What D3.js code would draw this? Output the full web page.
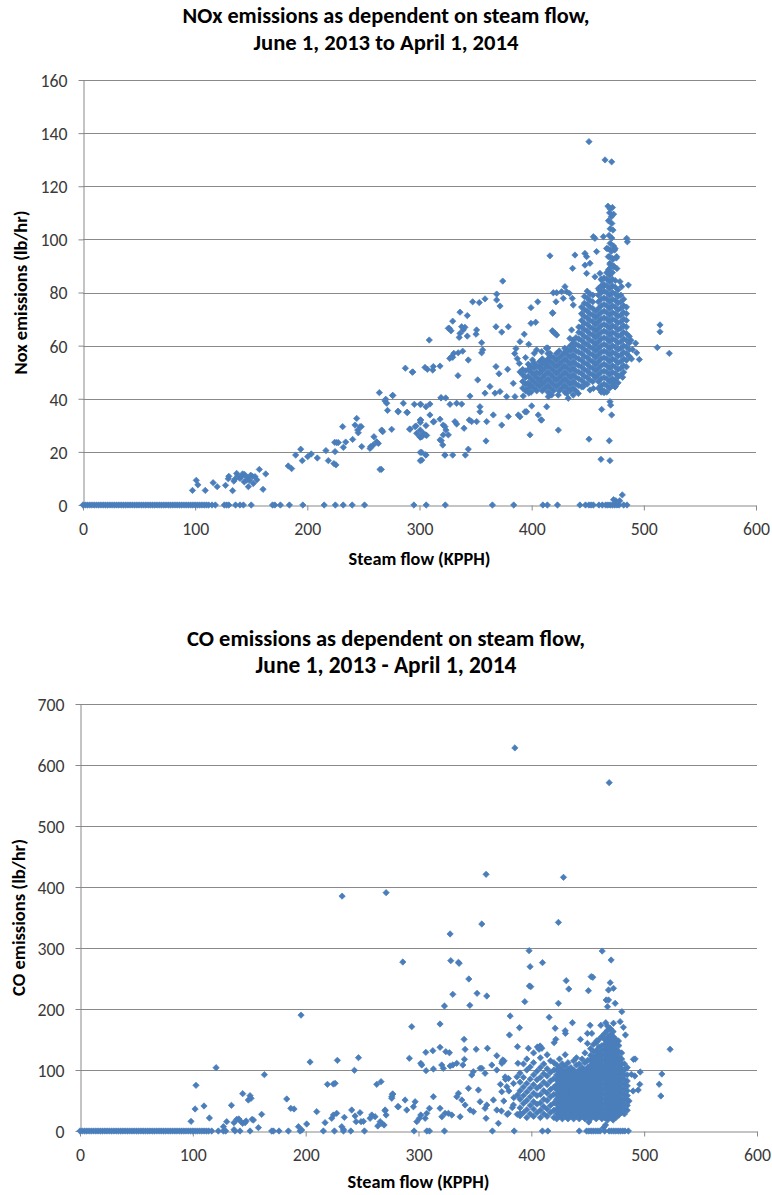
<!DOCTYPE html>
<html><head><meta charset="utf-8">
<script src="https://cdn.jsdelivr.net/npm/d3@7"></script>
<style>body{margin:0;background:#fff}svg{display:block}</style>
</head><body>
<svg id="c" width="772" height="1195"></svg>
<script>
// ---------------- DATA ----------------
const xTicks = [0,100,200,300,400,500,600];
const noxTicks = [0,20,40,60,80,100,120,140,160];
const coTicks = [0,100,200,300,400,500,600,700];

const noxTitle = ["NOx emissions as dependent on steam flow,", "June 1, 2013 to April 1, 2014"];
const coTitle = ["CO emissions as dependent on steam flow,", "June 1, 2013 - April 1, 2014"];
const xTitle = "Steam flow (KPPH)";
const noxYTitle = "Nox emissions (lb/hr)";
const coYTitle = "CO emissions (lb/hr)";

// steam flow values where NOx reading was 0
const noxZeroFlow = [0,2,4,6,8,10,12,14,16,18,20,22,24,26,28,30,32,34,36,38,40,42,44,46,48,50,52,54,56,58,60,62,64,66,68,70,72,74,76,78,80,82,84,86,88,90,92,94,96,98,100,102,104,106,108,110,112,115,118,126,128,130,136,140,143,150,169,171,176,184,196,215,225,232,240,251,295,306,323,365,384,410,414,423,443,448,451,453,455,460,463,466,468,470,472,474,476,478,482,485];

// individual NOx points [steam flow, NOx]
const noxPoints = [
[97.6,5.5],[101,9.3],[102.4,7.6],[109,5.5],[116,8.4],[119.6,6.9],[127.1,7.4],[129.5,9.9],[130,10.8],[133.4,5.4],[134.5,9],[135.4,9.7],[137,11.9],[138,11],[139.9,10],[141,10.5],[142.3,11.7],[143.8,8.7],[144,11.5],[145.9,9.4],[146.5,10.3],[147.4,6.9],[148.5,9.3],[149.5,11.2],[151,10.8],[151.8,8.1],[153.3,10.7],[155,9.5],[157.2,13.4],[160.5,5.9],[162.9,11.7],
[183,14.7],[186,13.7],[189.6,18.8],[194.1,21],[195.5,16.7],[200.3,18.2],[203.5,19.2],[208.9,17.7],[216.6,20.5],[218.7,16.7],[223.7,15.6],[225.5,15.1],[224.4,23.6],[224.7,20.1],[226.2,23.5],[227.6,23.5],
[231.5,29.5],[234.2,23.7],[232.1,21.7],[240.4,24.7],[242.5,30.1],[244,32.6],[244.9,28.2],[247,29.5],[248.1,29.5],[245.4,27.2],[248.5,22],
[255.9,21.3],[256.5,22],[258.8,22.6],[259.4,25.7],[261.8,23.8],[263.3,23.2],[267.2,27.6],[266,13.4],[266.6,27.9],
[264.2,42.3],[269.9,39.8],[270.8,38.3],[271.5,35.6],[276.1,41.2],[285.6,38.3],[280.8,35.3],[288.8,34.9],[295.4,37.9],[300.7,37.9],[305.8,37],[309.3,38],
[287.4,51.5],[294,50.1],[304.9,51.8],[307,51.1],[312.3,52.1],[311.8,50.8],[318.3,52.3],[308.7,62.1],[325.7,66.5],[327,55.2],
[300.7,32],[300.7,31.1],[300.7,28.2],[300.7,25.5],[300.7,19.8],[300.7,16.7],
[305.8,29.9],[306.4,26.2],[305.5,18.9],[309.3,33.9],[312.3,31.3],[318.3,32.3],[319.2,40.3],[323.4,40.3],[322.7,29.5],[323.6,28.2],[321.2,26.4],[318.3,24.5],[319.4,24.2],[320.7,22.6],[322.7,18.8],
[291.3,28.6],[296,29.5],[297.5,27],[300.4,25.7],[303.4,27],
[416.3,93.8],[374.2,84.3],[368.8,79.4],[368.8,77.2],[371.8,74.9],[358.4,77.6],[353.3,76.2],[347.4,76.5],[336.1,72.6],[342.6,71.3],[329.6,69.2],[326.6,66.5],[328.1,65.6],[337.6,67.1],[340.5,66.9],[336.1,64.6],[335.4,63.1],[339,65.9],[342.6,63.6],[350.9,65.9],[350.4,64.3],[355.4,61.1],[368.2,67.1],[373.3,65.1],[379.2,67.1],[399.4,74.3],[405.4,76.5],[403.6,68.8],[399.4,68.4],[418.7,72.2],[421.7,76.5],[418.4,65.6],[422.3,64],[414.3,59.1],[393.4,64.3],[389.6,61.5],[397.4,60.5],
[293.6,50],[328.6,55.8],[330.6,57.1],[334.5,57.3],[338.5,57.9],[329.6,55.6],[343.5,54.6],[334.3,48.7],[355.4,57.3],[356.3,58.4],[351.9,47.1],[368.2,52.1],[370.9,49.4],[378.6,51.1],[386,58.9],[387.2,55.1],[384.9,57],[389,53.3],[389.6,50.1],[394.6,55.5],[402.3,57.1],[404.4,58.4],[400.8,54.6],[399.1,52.1],[407.4,51.5],[413.4,59.1],[416.3,57.1],[412.8,53.3],
[269.2,39.2],[276.1,41.3],[281.1,35.1],[289.2,34.8],[301.1,37.9],[319.2,40.4],[327.2,37.9],[333.1,38.3],[337.6,38],[345,41],[358.4,42.1],[362.8,44.6],[367.3,42.1],[371.8,42.7],[377.7,40.8],[383.6,45.8],[385.1,40.8],[392.5,41],[397.6,42.1],
[266.3,28.2],[275.2,28.5],[291.5,28.5],[296.9,29.7],[301.1,32],[302,25.7],[305.5,26.4],[312.9,31.4],[321.2,30.1],[325.7,26.4],[331.6,31.4],[333.1,30.5],[339.7,28.9],[344.4,32],[346.5,31.4],[351,31.4],[353.9,37],[353.9,35.1],[359.9,31.4],[365.8,33.9],[373.3,30.1],[379.2,33.3],[388.1,33.9],[394.1,35.1],[398.5,26.4],[405.9,33.9],[408.3,32],[423.8,28.2],
[264.8,13.4],[302,19.8],[302,16.9],[305.8,18.8],[322.7,18.8],[329.6,18.8],[340.9,18.8],[343.5,21],[359.3,24.1],
[395.5,35.1],[389.6,33.2],[400,37.3],[408.9,32],[432.6,40.2],[416.3,41.4],[413.4,37],
[451.1,136.8],[465.4,129.9],[471.3,129.2],[455,101],[456.4,100.4],[463.9,101],[457.9,95.4],[484.7,100.4],[485.3,99.1],[438.6,94.1],[436.5,89.1],[447.5,94.7],[449,93.5],[452,91],[447.5,90.3],[449,87.2],[466.8,96.6],[470.4,96],[474.3,96.6],[468.3,93.5],[472.2,92.8],[475.8,93.5],[469.8,91],[473.4,89.7],[456.4,85.9],[460.9,87.2],[462.4,84.7],[463.9,82.2],[460.3,80.9],[478.7,84.1],[480.2,82.2],[486.2,82.8],[429.7,82.2],[431.2,80.3],[419.3,79.9],[422.3,79.9],[426.7,80.3],[428.2,77.8],[433.6,79.7],[437.1,75.3],[436.2,77.8],[418.7,72.4],[419.3,65.2],[420.8,64.6],[435.6,65.9],[434.1,62.7],[437.1,62.1],[413.3,59],[408.9,57.7],[512,59.3],[514.4,67.8],[514.4,65.2],[522.7,57.1],[492.7,60.9],[493.6,57.3],[496,54.8],[488.5,62],[490,58.5],[489,55],
[462.4,36],[470.4,37.6],[471.3,33.9],[469.8,38.9],[451.1,24.8],[469.2,24.2],[461.8,17.2],[469.8,16.7],[480.8,3.8],[475,1.6],[478.5,1.6],[473,2],[477.2,48.3],[481.1,48.1],[474.3,44.5],[472.8,45.8],
[407.4,46.8],[414.8,40.8],[417.8,41.4],[423.7,41.4],[431.2,42],[437.1,41.4],[441.6,42],[446,44.5],[452,43.3],[455,43.9],[462.4,43.3],[464.5,42.3],
[468,112.5],[470,111.5],[472,112],[469.5,110],[471,108.5],[473,109.5],[468.5,107],[471.5,106],[470,104],[472.5,103.5],[469,101.5],[471.5,100.5],[470,98.5],[473,97.5],[468,96.5],[471,95.5],[474,96],[469.5,93.5],[472.5,92.5],[475.5,93],[470,90.5],[473,90],[468.5,88.5],[476,89]
];

// dense NOx cluster, read column by column: [steam flow, [NOx values]]
const noxDenseColumns = [
[392,[44,46.5,49,51]],
[394.5,[43,45.5,48,50.5]],
[397,[44,46,48.5,51,53]],
[399.5,[42.5,45,47.5,50,52]],
[402,[44,46.5,49,51.5,53.5]],
[404.5,[43,45.5,48,50,52.5]],
[407,[44.5,47,49.5,52,54]],
[409.5,[43,45.5,48,50.5,53,55]],
[412,[44,46.5,49,51.5,54]],
[414.5,[42.5,45,47.5,50,52.5,55,57]],
[417,[44,46.5,49,51.5,54,56]],
[419.5,[43,45.5,48,50.5,53,55.5]],
[422,[44.5,47,49.5,52,54.5,57]],
[424.5,[43,45.5,48,50.5,53,55.5,58]],
[427,[44,46.5,49,51.5,54,56.5]],
[429.5,[42.5,45,47.5,50,52.5,55,57.5,59]],
[432,[44,46.5,49,51.5,54,56.5,58.5]],
[434.5,[43,45.5,48,50.5,53,55.5,58,60]],
[437,[44,46.5,49,51.5,54,56.5,59,61]],
[439.5,[43,45.5,48,50.5,53,55.5,58,60.5,63]],
[442,[45,47.5,50,52.5,55,57.5,60,62.5,65,67]],
[444.5,[44.5,47,49.5,52,54.5,57,59.5,62,64.5,67,69.5,72,74.5]],
[447,[46,48.5,51,53.5,56,58.5,61,63.5,66,68.5,71,73.5,76,78.5]],
[449.5,[45.5,48,50.5,53,55.5,58,60.5,63,65.5,68,70.5,73,75.5,78,80.5]],
[452,[47,49.5,52,54.5,57,59.5,62,64.5,67,69.5,72,74.5,77,79.5]],
[454.5,[46.5,49,51.5,54,56.5,59,61.5,64,66.5,69,71.5,74,76.5,79]],
[457,[48,50.5,53,55.5,58,60.5,63,65.5,68,70.5,73]],
[459.5,[44,46.5,49,51.5,54,56.5,59,61.5,64,66.5,69,71.5,74,76.5,79,81.5]],
[462,[42.5,45,47.5,50,52.5,55,57.5,60,62.5,65,67.5,70,72.5,75,77.5,80,82.5,85]],
[464.5,[43,45.5,48,50.5,53,55.5,58,60.5,63,65.5,68,70.5,73,75.5,78,80.5,83,85.5]],
[467,[42.5,45,47.5,50,52.5,55,57.5,60,62.5,65,67.5,70,72.5,75,77.5,80,82.5,85,87.5]],
[469.5,[44,46.5,49,51.5,54,56.5,59,61.5,64,66.5,69,71.5,74,76.5,79,81.5,84,86.5,89]],
[472,[45,47.5,50,52.5,55,57.5,60,62.5,65,67.5,70,72.5,75,77.5,80,82.5,85,87.5]],
[474.5,[44.5,47,49.5,52,54.5,57,59.5,62,64.5,67,69.5,72,74.5,77,79.5,82,84.5]],
[477,[46,48.5,51,53.5,56,58.5,61,63.5,66,68.5,71,73.5,76,78.5,81]],
[479.5,[49,51.5,54,56.5,59,61.5,64,66.5,69,71.5,74,76.5,79]],
[482,[50,52.5,55,57.5,60,62.5,65,67.5,70,72.5,75,77.5]],
[484.5,[52,54.5,57,59.5,62,64.5,67,69.5,72,74.5]],
[487,[56,58.5,61,63.5]]
];

// steam flow values where CO reading was 0
const coZeroFlow = [0,2,4,6,8,10,12,14,16,18,20,22,24,26,28,30,32,34,36,38,40,42,44,46,48,50,52,54,56,58,60,62,64,66,68,70,72,74,76,78,80,82,84,86,88,90,92,94,96,98,100,102,104,106,108,110,112,114,116.7,122.6,127.1,129.1,137.4,141.8,150.7,169.9,171.4,176.4,184.7,195,215.7,225.5,233.5,240,252.1,296.1,307.4,309.7,323,365.5,384.8,409.8,414.6,442.5,449,451,453,455,457,459,461,465,469,471,473,475,477,479,481,483,486];

// individual CO points [steam flow, CO]
const coPoints = [
[385.4,628],[469,571],[359.9,420.8],[271.3,390.7],[232.3,385],[428.5,415.9],[424,342],[356.1,339.3],[328,323],[398,295.6],[462.8,295],[470.7,280.3],[286.1,277],[328.6,279.2],[335.4,276.5],[336,274.9],[398.9,269.4],[409.9,276],[399.5,236.6],[398.3,237.7],[344.6,249.2],[330.4,224.1],[351.9,225.7],[360.5,221.3],[394.2,212],[424,209.3],[323,204.9],[345.5,206],[430.9,246.4],[433.2,232.8],[453,253],[454.5,252],[450.6,230],[469.9,243.1],[468.4,231.1],[472.8,233.9],[466.3,214.8],[468.4,214.8],[474.3,209.3],[467.5,203.8],[480.2,195.6],[195.9,190],
[381.2,188.5],[415.8,186.4],[294,171],[319.1,175.4],[389.5,169.3],[380.6,157.4],[421.1,168.4],[340.4,150.3],[436.4,177.5],[430,164.4],[430.2,160],[443.5,150.2],[449.7,143.6],[449.7,160],[452.1,173.3],[453.6,160],[458,147.9],[461.6,173.3],[466,177.5],[472.8,176.6],[477.2,147.5],[478.7,179.2],[481.6,170],[483.4,157.4],[523,134],[490.5,117.5],[492,118],[496.5,96.7],[494.7,67.2],[515.7,93.4],[513.3,76.6],[514.8,57.4],
[405.4,137.7],[406.9,133.9],[420.2,144.8],[421.7,150.3],[488.7,92.9],[491.7,90.2],[490.2,65.6],[486.6,49.2],[496.1,76.5],
[291.9,119.2],[306.5,129],[312.7,131.6],[319.1,137.2],[324.2,130],[327.4,128.3],[341.3,133.9],[351.1,133.9],[361.1,135.6],[369.4,123.4],[374.7,116.4],[375.9,114.8],[387.7,138.2],[397.4,135.6],[407.8,139.3],[409.3,135.6],
[302,111],[302.9,108.2],[306.7,98.9],[313.2,101.6],[320.6,108.2],[322,102.8],[328,106.6],[330.4,108.2],[333.9,111],[339.3,108.2],[340.7,117.5],[347.2,91.8],[348.6,97.2],[354.6,102.8],[356.1,102.8],[359,94.6],[365,108.2],[369.4,100],[373.9,111],[376.8,88.7],[379.7,86.1],[384.2,77.9],[387.2,88.7],[388.1,111],
[374.1,113.7],[377.1,84.7],[372.6,76.5],[380.1,65.6],[384.5,54.6],[375.6,49.2],[383.1,38.3],[387.5,27.3],[378.6,27.3],[373.5,32.8],
[267.4,12.6],[270.4,34.4],[276.3,56.2],[277.2,60.7],[282.2,39.8],[288.1,50.8],[289.6,34.4],[295.5,39.8],[297,48],[298.5,15.3],[300.8,20.8],[302,26.2],[305.9,20.8],[307.3,29],[309.7,37.2],[313.2,56.2],[319.1,37.2],[320.7,23.4],[323.6,29],[326.5,29],[329.5,26.2],[333.9,56.2],[335.4,61.8],[336.9,23.4],[338.4,50.8],[341.3,42.6],[344.3,70],[345.7,34.4],[348.7,31.6],[353.1,67.2],[354.6,48],[359,37.2],[359.9,20.8],[360.5,42.6],[366.4,50.8],[369.4,34.4],[370.8,12.6],[373.8,64.4],[378.3,72.6],[379.7,29],[384.1,42.6],[387.7,59],[390.1,29],
[120.6,103.8],[203.9,113.1],[228.1,115.8],[246.8,120.2],[243.2,99.5],[102.8,74.9],[163.4,92.3],[219.3,76.5],[224.6,77],[226.1,78.1],[263,76.5],[266.8,80.9],[183.2,52.5],[186.8,37.2],[189.7,36.1],[102,36.1],[109.9,41],[144.2,61.2],[150.7,57.9],[149.2,50.8],[151.6,53.6],[134.2,42.1],[161,27.3],[209.8,31.7],[276.9,60.1],[276.3,53.6],[281.6,39.9],
[223.1,20.8],[224.6,26.2],[227.5,29],[234.3,22.4],[240.8,34.4],[243.8,24.6],[248.2,30.1],[244.7,15.3],[249.1,15.3],[257.1,20.8],[258.6,26.2],[261.5,23.5],[263.9,8.2],[266,15.3],[269.5,9.8],[270.4,33.3],[271.3,26.2],
[98.4,15.8],[114.7,21.3],[127.1,7.1],[130,15.3],[136.5,13.7],[138.9,19.1],[140.7,19.7],[142.7,15.3],[144.2,12.6],[146.3,13.7],[147.2,16.4],[152.5,19.1],[153.7,18],[158.1,5.5],[136.5,2.2],[193.6,7.1],[196.5,1.6],[200.9,11.5],[217.2,13.7],[232,7.1],[233.5,2.7],[251.2,15.8],
[450.9,14.8],[465.8,9.8],[464,5.5]
];

// dense CO cluster, read column by column: [steam flow, [CO values]]
const coDenseColumns = [
[390,[25,38,52,66,80,95]],
[393,[30,45,58,72,88,110]],
[396,[22,35,50,64,78,100,118]],
[399,[28,42,56,70,85,105]],
[402,[24,36,48,62,76,92,112,128]],
[405,[30,44,58,70,84,98]],
[408,[22,34,46,60,74,88,104,120]],
[411,[28,40,52,66,80,94,110]],
[414,[24,36,50,62,76,90,102,125]],
[417,[30,42,56,68,82,96,115]],
[420,[22,34,46,60,72,86,100,112]],
[422.5,[20,28,36,44,52,60,68,76,84,92,100,108]],
[425,[24,32,40,48,56,64,72,80,88,96,104,118]],
[427.5,[20,28,36,44,52,60,68,76,84,92,100,110]],
[430,[24,32,40,48,56,64,72,80,88,96,106,125]],
[432.5,[20,28,36,44,52,60,68,76,84,92,100,112]],
[435,[24,32,40,48,56,64,72,80,88,96,104]],
[437.5,[20,28,36,44,52,60,68,76,84,92,100,115]],
[440,[24,32,40,48,56,64,72,80,88,96,108,120]],
[442.5,[20,28,36,44,52,60,68,76,84,92,100,110]],
[445,[24,32,40,48,56,64,72,80,88,96,104,118]],
[447.5,[20,28,36,44,52,60,68,76,84,92,100,112,128]],
[450,[24,32,40,48,56,64,72,80,88,96,104,116]],
[452.5,[20,28,36,44,52,60,68,76,84,92,100,108,116,124,135]],
[455,[24,32,40,48,56,64,72,80,88,96,104,112,120,130,142]],
[457.5,[20,28,36,44,52,60,68,76,84,92,100,108,116,124,132,145]],
[460,[24,32,40,48,56,64,72,80,88,96,104,112,120,128,138,150]],
[462.5,[20,28,36,44,52,60,68,76,84,92,100,108,116,124,132,140,155]],
[465,[22,30,38,46,54,62,70,78,86,94,102,110,118,126,134,142,150,160]],
[467.5,[18,26,34,42,50,58,66,74,82,90,98,106,114,122,130,138,146,154,165,172]],
[470,[22,30,38,46,54,62,70,78,86,94,102,110,118,126,134,142,150,158,168]],
[472.5,[18,26,34,42,50,58,66,74,82,90,98,106,114,122,130,138,146,155,163]],
[475,[22,30,38,46,54,62,70,78,86,94,102,110,118,126,134,142,150]],
[477.5,[26,34,42,50,58,66,74,82,90,98,106,114,122,130,140]],
[480,[30,38,46,54,62,70,78,86,94,102,110,118,128]],
[482.5,[28,36,44,52,60,68,76,84,92,100,110]],
[485,[34,42,50,58,66,74,82,92,104]]
];

// ---------------- DRAWING ----------------
const FONT = "Carlito, Calibri, Lato, 'Open Sans', sans-serif";
const MARK = "#4A7EBB";
const GRID = "#898989";
const svg = d3.select("#c");

function fitWidth(t, target, base) {
  t.style("font-size", base + "px");
  const w = t.node().getComputedTextLength();
  const s = w > 0 ? base * target / w : base;
  t.style("font-size", s.toFixed(2) + "px");
  return s;
}

// tick label size: "600" is about 27px wide in the reference
const probe = svg.append("text").attr("font-family", FONT).text("600");
const TICK_FS = fitWidth(probe, 27, 15);
probe.remove();

function collect(points, zeros, cols) {
  const all = points.slice();
  zeros.forEach(v => all.push([v, 0]));
  cols.forEach(c => c[1].forEach(v => all.push([c[0], v])));
  return all;
}

function drawChart(o) {
  const g = svg.append("g");
  const x = d3.scaleLinear().domain([0, 600]).range([o.left, o.right]);
  const y = d3.scaleLinear().domain([0, o.yTicks[o.yTicks.length - 1]]).range([o.bottom, o.top]);

  // title
  o.title.forEach((line, i) => {
    const t = g.append("text").attr("x", o.titleX).attr("y", o.titleY[i])
      .attr("text-anchor", "middle").attr("font-family", FONT).attr("font-weight", "bold")
      .attr("fill", "#000").text(line);
    fitWidth(t, o.titleW[i], 18);
  });

  // gridlines
  g.append("g").selectAll("line").data(o.yTicks.filter(d => d > 0)).join("line")
    .attr("x1", o.left).attr("x2", o.right)
    .attr("y1", d => Math.round(y(d)) + 0.5).attr("y2", d => Math.round(y(d)) + 0.5)
    .attr("stroke", GRID).attr("stroke-width", 1);

  // axes
  const ya = g.append("g").attr("transform", `translate(${o.left + 0.5},0)`)
    .call(d3.axisLeft(y).tickValues(o.yTicks).tickSize(5).tickSizeOuter(0).tickPadding(11));
  const xa = g.append("g").attr("transform", `translate(0,${o.bottom + 0.5})`)
    .call(d3.axisBottom(x).tickValues(xTicks).tickSize(5).tickSizeOuter(0).tickPadding(12));
  [ya, xa].forEach(a => {
    a.attr("font-size", TICK_FS.toFixed(2)).attr("font-family", FONT);
    a.select(".domain").attr("stroke", GRID);
    a.selectAll(".tick line").attr("stroke", GRID);
    a.selectAll(".tick text").attr("fill", "#3a3a3a")
      .style("font-family", FONT).style("font-size", TICK_FS.toFixed(2) + "px");
  });
  ya.selectAll(".tick text").attr("dy", "0.36em");

  // axis titles
  const xt = g.append("text").attr("x", (o.left + o.right) / 2).attr("y", o.xTitleY)
    .attr("text-anchor", "middle").attr("font-family", FONT).attr("font-weight", "bold")
    .attr("fill", "#000").text(xTitle);
  fitWidth(xt, o.xTitleW, 13);
  const yt = g.append("text")
    .attr("transform", `translate(${o.yTitleX},${(o.top + o.bottom) / 2}) rotate(-90)`)
    .attr("text-anchor", "middle").attr("font-family", FONT).attr("font-weight", "bold")
    .attr("fill", "#000").text(o.yTitle);
  fitWidth(yt, o.yTitleW, 13);

  // markers
  const sym = d3.symbol().type(d3.symbolSquare).size(20)();
  g.append("g").selectAll("path").data(o.data).join("path")
    .attr("d", sym)
    .attr("transform", d => `translate(${x(d[0])},${y(d[1])}) rotate(45)`)
    .attr("fill", MARK).attr("stroke", MARK).attr("stroke-width", 0.7);
}

drawChart({
  left: 83, right: 756, top: 80, bottom: 505,
  yTicks: noxTicks, title: noxTitle, titleX: 386, titleY: [23, 50], titleW: [407, 265],
  xTitleY: 565, xTitleW: 142, yTitleX: 27, yTitle: noxYTitle, yTitleW: 164,
  data: collect(noxPoints, noxZeroFlow, noxDenseColumns)
});

drawChart({
  left: 80, right: 757, top: 704, bottom: 1131,
  yTicks: coTicks, title: coTitle, titleX: 386, titleY: [646, 673], titleW: [398, 261],
  xTitleY: 1188, xTitleW: 142, yTitleX: 25, yTitle: coYTitle, yTitleW: 157,
  data: collect(coPoints, coZeroFlow, coDenseColumns)
});
</script>
</body></html>
